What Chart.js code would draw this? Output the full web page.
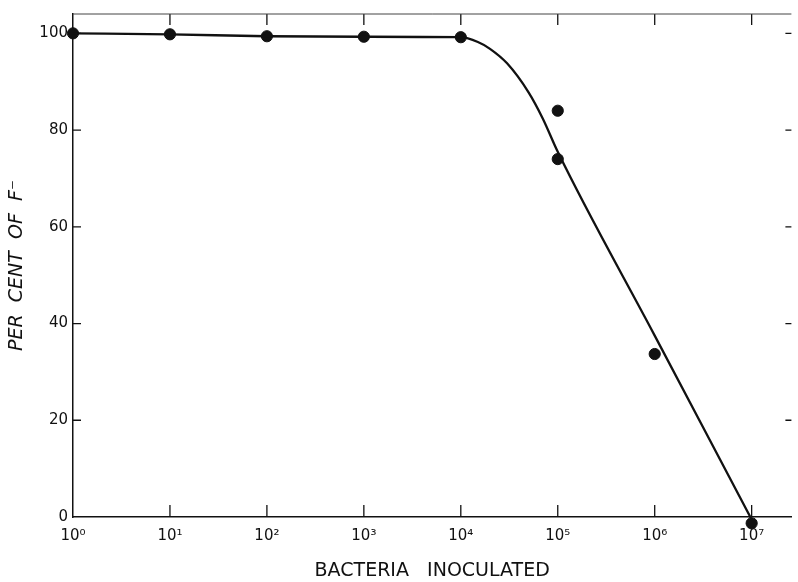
<!DOCTYPE html>
<html>
<head>
<meta charset="utf-8">
<script src="https://cdn.jsdelivr.net/npm/chart.js@4"></script>
<style>
  html, body { margin: 0; padding: 0; background: #fff; }
  #wrap { width: 798px; height: 582px; }
</style>
</head>
<body>
<div id="wrap"><canvas id="chart" width="798" height="582"></canvas></div>
<script>
// measured points (bacteria inoculated, per cent of F-)
const pointX = [1, 10, 100, 1000, 10000, 100000, 100000, 1000000, 10000000];
const pointY = [100, 99.8, 99.4, 99.3, 99.2, 84, 74, 33.7, -1.3];

// hand drawn curve through the points
const curveX = [1, 10, 100, 1000, 10000, 15000, 20000, 30000, 50000, 70000, 100000, 1000000, 10000000];
const curveY = [100, 99.8, 99.4, 99.3, 99.2, 98.2, 96.8, 93.8, 87.8, 82.4, 75.5, 37.5, -0.5];

const xTickValues = [1, 10, 100, 1000, 10000, 100000, 1000000, 10000000];
const xTickLabels = ['10⁰', '10¹', '10²', '10³', '10⁴', '10⁵', '10⁶', '10⁷'];
const yTickValues = [0, 20, 40, 60, 80, 100];

const ink = '#111';

// ticks in the original point inward, and there is a top frame line
const inwardTicks = {
    id: 'inwardTicks',
    afterDraw(chart) {
        const ctx = chart.ctx;
        const area = chart.chartArea;
        const xs = chart.scales.x, ys = chart.scales.y;
        ctx.save();
        ctx.strokeStyle = ink;
        ctx.lineWidth = 1.3;
        ctx.beginPath();
        xTickValues.forEach(function (v, i) {
            const px = xs.getPixelForValue(v);
            if (i > 0) {
                ctx.moveTo(px, area.bottom);
                ctx.lineTo(px, area.bottom - 12);
                ctx.moveTo(px, area.top);
                ctx.lineTo(px, area.top + 11);
            }
        });
        yTickValues.forEach(function (v) {
            const py = ys.getPixelForValue(v);
            if (v > 0) {
                ctx.moveTo(area.left, py);
                ctx.lineTo(area.left + 8, py);
                ctx.moveTo(area.right, py);
                ctx.lineTo(area.right - 6, py);
            }
        });
        ctx.stroke();
        // top frame line
        ctx.strokeStyle = '#444';
        ctx.lineWidth = 1;
        ctx.beginPath();
        ctx.moveTo(area.left, area.top);
        ctx.lineTo(area.right, area.top);
        ctx.stroke();
        ctx.restore();
    }
};

const ctx = document.getElementById('chart').getContext('2d');
new Chart(ctx, {
    type: 'scatter',
    data: {
        datasets: [{
            label: 'curve',
            type: 'line',
            data: curveX.map(function (x, i) { return { x: x, y: curveY[i] }; }),
            borderColor: ink,
            borderWidth: 2.3,
            pointRadius: 0,
            cubicInterpolationMode: 'monotone',
            fill: false,
            clip: false
        }, {
            label: 'points',
            data: pointX.map(function (x, i) { return { x: x, y: pointY[i] }; }),
            backgroundColor: ink,
            borderColor: ink,
            pointRadius: 5.6,
            borderWidth: 1,
            clip: false
        }]
    },
    options: {
        responsive: false,
        animation: false,
        layout: { padding: { top: 11, right: 6, left: 0, bottom: 0 } },
        plugins: {
            legend: { display: false },
            tooltip: { enabled: false }
        },
        scales: {
            x: {
                type: 'logarithmic',
                min: 1,
                max: 25700000,
                afterBuildTicks: function (scale) {
                    scale.ticks = xTickValues.map(function (v) { return { value: v }; });
                },
                afterFit: function (scale) { scale.height = 65; },
                grid: { display: false, drawTicks: false },
                border: { display: true, color: ink, width: 1.5 },
                ticks: {
                    autoSkip: false,
                    maxRotation: 0,
                    padding: 10,
                    color: ink,
                    font: { family: 'DejaVu Sans', size: 15 },
                    callback: function (value, index) { return xTickLabels[index]; }
                },
                title: {
                    display: true,
                    text: 'BACTERIA   INOCULATED',
                    color: ink,
                    font: { family: 'DejaVu Sans', size: 19 },
                    padding: { top: 16, bottom: 0 }
                }
            },
            y: {
                min: 0,
                max: 104,
                afterBuildTicks: function (scale) {
                    scale.ticks = yTickValues.map(function (v) { return { value: v }; });
                },
                afterFit: function (scale) { scale.width = 73; },
                grid: { display: false, drawTicks: false },
                border: { display: true, color: ink, width: 1.5 },
                ticks: {
                    padding: 5,
                    color: ink,
                    font: { family: 'DejaVu Sans', size: 15 }
                },
                title: {
                    display: true,
                    text: 'PER  CENT  OF  F⁻',
                    color: ink,
                    font: { family: 'DejaVu Sans', size: 19, style: 'italic' },
                    padding: { top: 6, bottom: 2 }
                }
            }
        }
    },
    plugins: [inwardTicks]
});
</script>
</body>
</html>
